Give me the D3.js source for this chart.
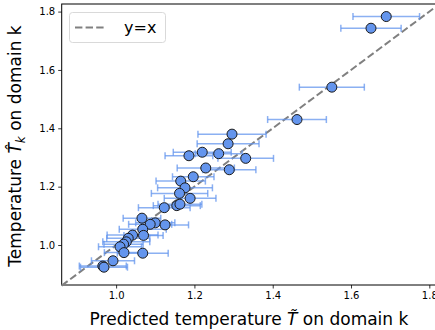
<!DOCTYPE html>
<html lang="en">
<head>
  <meta charset="UTF-8">
  <title>Predicted vs measured temperature</title>
  <script src="https://d3js.org/d3.v7.min.js"></script>
  <style>
    body { margin: 0; background: #fff; }
    text { font-family: "DejaVu Sans", sans-serif; fill: #000; }
  </style>
</head>
<body>
  <svg width="435" height="330"></svg>
  <script>
    // predicted temperature (x), measured temperature (y), error half width on x
    const predicted = [1.690, 1.651, 1.551, 1.462, 1.296, 1.286, 1.186, 1.220, 1.262, 1.331,
                       1.229, 1.289, 1.197, 1.165, 1.176, 1.162, 1.189, 1.123, 1.155, 1.163,
                       1.066, 1.100, 1.087, 1.125, 1.068, 1.070, 1.042, 1.031, 1.026, 1.019,
                       1.010, 1.020, 1.068, 0.992, 0.966, 0.969];
    const actual    = [1.783, 1.743, 1.541, 1.430, 1.380, 1.347, 1.306, 1.318, 1.313, 1.297,
                       1.264, 1.258, 1.234, 1.219, 1.196, 1.177, 1.160, 1.128, 1.135, 1.140,
                       1.092, 1.076, 1.071, 1.069, 1.054, 1.033, 1.034, 1.023, 1.011, 1.003,
                       0.994, 0.974, 0.972, 0.946, 0.928, 0.924];
    const errors    = [0.085, 0.077, 0.083, 0.075, 0.087, 0.079, 0.061, 0.074, 0.060, 0.071,
                       0.073, 0.068, 0.053, 0.063, 0.070, 0.072, 0.066, 0.066, 0.060, 0.056,
                       0.048, 0.050, 0.055, 0.060, 0.060, 0.050, 0.065, 0.055, 0.060, 0.050,
                       0.055, 0.050, 0.065, 0.055, 0.060, 0.060];
    const tickValues = [1.0, 1.2, 1.4, 1.6, 1.8];

    const data = predicted.map((p, i) => ({ x: p, y: actual[i], e: errors[i] }));

    const svg = d3.select("svg");
    const mLeft = 61.7, mTop = 4, mBottom = 285;

    const x = d3.scaleLinear().domain([0.861, 1.826]).range([mLeft, 439.5]);
    const y = d3.scaleLinear().domain([0.863, 1.826]).range([mBottom, mTop]);

    // axes
    const xAxis = d3.axisBottom(x).tickValues(tickValues).tickFormat(d3.format(".1f")).tickSize(3.5).tickPadding(3);
    const yAxis = d3.axisLeft(y).tickValues(tickValues).tickFormat(d3.format(".1f")).tickSize(3.5).tickPadding(3);

    const gx = svg.append("g").attr("transform", `translate(0,${mBottom})`).call(xAxis);
    const gy = svg.append("g").attr("transform", `translate(${mLeft},0)`).call(yAxis);
    [gx, gy].forEach(g => {
      g.select(".domain").remove();
      g.selectAll("text").style("font-family", "DejaVu Sans").style("font-size", "10px").attr("fill", "#000");
      g.selectAll("line").attr("stroke", "#000").attr("stroke-width", 0.8);
    });

    // frame
    svg.append("rect")
      .attr("x", mLeft).attr("y", mTop)
      .attr("width", x.range()[1] - mLeft).attr("height", mBottom - mTop)
      .attr("fill", "none").attr("stroke", "#000").attr("stroke-width", 1);

    const plot = svg.append("g");

    // y = x reference line
    plot.append("line")
      .attr("x1", x(0.861)).attr("y1", y(0.861))
      .attr("x2", x(1.826)).attr("y2", y(1.826))
      .attr("stroke", "#808080").attr("stroke-width", 2)
      .attr("stroke-dasharray", "7.4,3.2");

    // horizontal error bars
    const eb = plot.append("g")
      .attr("stroke", "#6495ED").attr("stroke-opacity", 0.75).attr("stroke-width", 1.5)
      .selectAll("g").data(data).enter().append("g");
    eb.append("line")
      .attr("x1", d => x(d.x - d.e)).attr("x2", d => x(d.x + d.e))
      .attr("y1", d => y(d.y)).attr("y2", d => y(d.y));
    eb.append("line")
      .attr("x1", d => x(d.x - d.e)).attr("x2", d => x(d.x - d.e))
      .attr("y1", d => y(d.y) - 3.5).attr("y2", d => y(d.y) + 3.5);
    eb.append("line")
      .attr("x1", d => x(d.x + d.e)).attr("x2", d => x(d.x + d.e))
      .attr("y1", d => y(d.y) - 3.5).attr("y2", d => y(d.y) + 3.5);

    // points
    plot.selectAll("circle").data(data).enter().append("circle")
      .attr("cx", d => x(d.x)).attr("cy", d => y(d.y))
      .attr("r", 5)
      .attr("fill", "#6495ED")
      .attr("stroke", "#1a1a1a").attr("stroke-width", 1);

    // legend
    const lg = svg.append("g");
    lg.append("rect")
      .attr("x", 69.5).attr("y", 12.5).attr("width", 96).attr("height", 30).attr("rx", 3)
      .attr("fill", "#fff").attr("fill-opacity", 0.8)
      .attr("stroke", "#d9d9d9").attr("stroke-width", 1);
    lg.append("line")
      .attr("x1", 75).attr("x2", 105).attr("y1", 27.5).attr("y2", 27.5)
      .attr("stroke", "#808080").attr("stroke-width", 2).attr("stroke-dasharray", "7.4,3.2");
    lg.append("text").attr("x", 124).attr("y", 33).style("font-size", "16px").text("y=x");

    // axis labels
    svg.append("text")
      .attr("x", 249).attr("y", 325)
      .attr("text-anchor", "middle").style("font-size", "17px")
      .html('Predicted temperature <tspan font-style="italic">T̃</tspan> on domain k');

    svg.append("text")
      .attr("transform", "translate(21,146) rotate(-90)")
      .attr("text-anchor", "middle").style("font-size", "17px")
      .html('Temperature <tspan font-style="italic">T̂</tspan><tspan font-style="italic" font-size="12px" dy="4">k</tspan><tspan dy="-4"> on domain k</tspan>');
  </script>
</body>
</html>
